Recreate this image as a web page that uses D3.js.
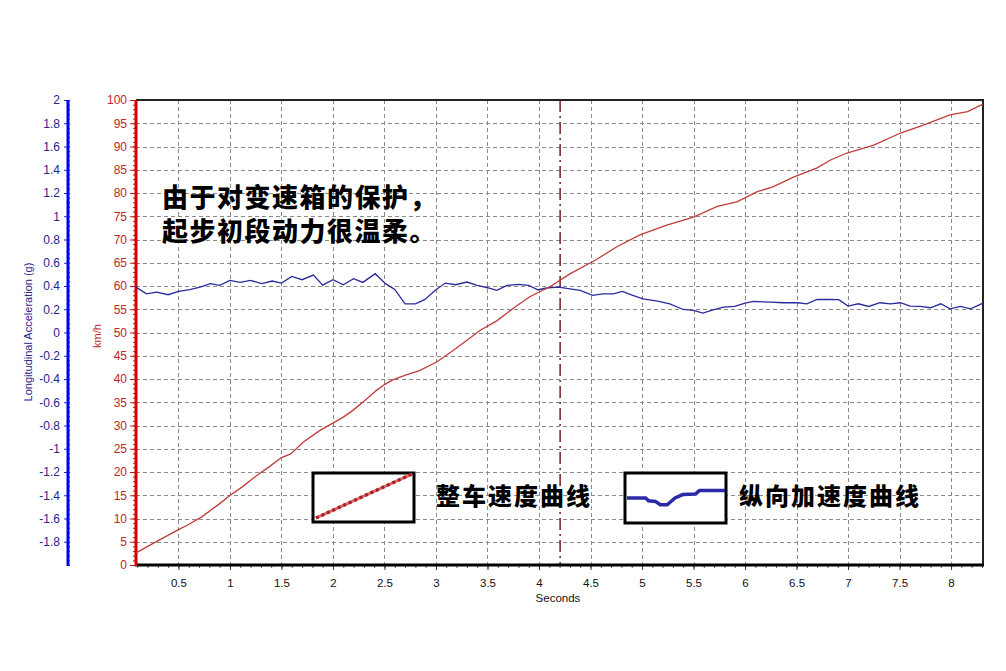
<!DOCTYPE html>
<html><head><meta charset="utf-8">
<script src="https://cdn.jsdelivr.net/npm/d3@7"></script>
<style>
html,body{margin:0;padding:0;background:#fff;}
svg{display:block;}
text{font-family:"Liberation Sans",Arial,sans-serif;}
.cjk{font-family:"Noto Sans CJK SC",sans-serif;font-weight:900;fill:#000;}
</style></head>
<body>
<svg id="c" width="1006" height="671"></svg>
<script>
// ---- data ----
const timeDomain = [0.088, 8.31];
const speedTicks = d3.range(0, 101, 5);
const accelTicks = [2,1.8,1.6,1.4,1.2,1,0.8,0.6,0.4,0.2,0,-0.2,-0.4,-0.6,-0.8,-1,-1.2,-1.4,-1.6,-1.8];
const timeTicks = [0.5,1,1.5,2,2.5,3,3.5,4,4.5,5,5.5,6,6.5,7,7.5,8];
const cursorTime = 4.205;

const speedT = [0.088,0.25,0.5,0.59,0.73,0.9,0.99,1.12,1.25,1.38,1.5,1.59,1.71,1.87,1.99,2.1,2.19,2.29,2.42,2.5,2.58,2.71,2.84,3.01,3.17,3.43,3.59,3.75,3.91,4.11,4.3,4.55,4.76,4.98,5.24,5.5,5.73,5.92,6.12,6.27,6.47,6.7,6.83,6.99,7.25,7.51,7.73,7.99,8.16,8.31];
const speedV = [2.6,4.6,7.6,8.6,10.4,13.2,14.8,16.8,19.1,21.1,23.1,23.9,26.4,28.9,30.4,31.8,33.2,35.0,37.5,38.8,39.8,40.9,41.8,43.7,46.2,50.5,52.5,55.2,57.7,59.9,62.6,65.6,68.5,71.0,73.1,74.8,77.1,78.1,80.3,81.3,83.4,85.4,87.1,88.6,90.3,92.9,94.6,96.8,97.5,99.1];

const accelT = [0.088,0.19,0.29,0.4,0.5,0.61,0.71,0.81,0.9,1.0,1.1,1.2,1.31,1.41,1.5,1.6,1.7,1.81,1.9,2.0,2.1,2.2,2.29,2.41,2.51,2.6,2.7,2.8,2.89,2.99,3.09,3.19,3.3,3.4,3.5,3.59,3.69,3.8,3.9,3.99,4.09,4.19,4.3,4.4,4.52,4.62,4.72,4.81,4.91,5.01,5.15,5.27,5.4,5.5,5.59,5.69,5.79,5.9,6.0,6.08,6.25,6.37,6.51,6.6,6.7,6.8,6.91,7.0,7.1,7.2,7.31,7.41,7.51,7.6,7.7,7.8,7.9,7.99,8.09,8.19,8.31];
const accelV = [0.39,0.333,0.347,0.325,0.353,0.368,0.39,0.42,0.405,0.448,0.431,0.448,0.42,0.443,0.425,0.483,0.454,0.494,0.408,0.454,0.411,0.463,0.431,0.506,0.42,0.371,0.247,0.247,0.282,0.362,0.425,0.411,0.434,0.405,0.385,0.362,0.405,0.414,0.405,0.368,0.385,0.39,0.376,0.362,0.319,0.333,0.333,0.353,0.319,0.29,0.27,0.247,0.198,0.19,0.167,0.195,0.218,0.224,0.253,0.267,0.261,0.256,0.256,0.247,0.284,0.284,0.282,0.227,0.247,0.224,0.256,0.247,0.256,0.227,0.224,0.213,0.247,0.204,0.224,0.204,0.253];

const annotationLines = ["由于对变速箱的保护，", "起步初段动力很温柔。"];
const legendLabels = ["整车速度曲线", "纵向加速度曲线"];
// legend sample shapes (relative 0..1 within swatch)
const legendRedX = [0, 1];
const legendRedY = [0, 1];
const legendBlueX = [0, 0.19, 0.22, 0.29, 0.34, 0.41, 0.49, 0.57, 0.70, 0.74, 1];
const legendBlueY = [0.5, 0.5, 0.42, 0.4, 0.3, 0.3, 0.5, 0.6, 0.62, 0.72, 0.72];

// ---- scales ----
const L = 136, R = 983, T = 100, B = 565;
const x = d3.scaleLinear().domain(timeDomain).range([L, R]);
const ySpeed = d3.scaleLinear().domain([0, 100]).range([B, T]);
const yAcc = d3.scaleLinear().domain([-2, 2]).range([B, T]);

const svg = d3.select("#c");

// grid
const grid = svg.append("g").attr("stroke", "#8a8a8a").attr("stroke-width", 1).attr("stroke-dasharray", "4,3");
speedTicks.filter(v => v > 0 && v < 100).forEach(v => {
  grid.append("line").attr("x1", L).attr("x2", R).attr("y1", Math.round(ySpeed(v)) + 0.5).attr("y2", Math.round(ySpeed(v)) + 0.5);
});
timeTicks.forEach(v => {
  grid.append("line").attr("y1", T).attr("y2", B).attr("x1", Math.round(x(v)) + 0.5).attr("x2", Math.round(x(v)) + 0.5);
});

// frame top/right
svg.append("line").attr("x1", L).attr("x2", R + 1).attr("y1", T).attr("y2", T).attr("stroke", "#222").attr("stroke-width", 2);
svg.append("line").attr("x1", R).attr("x2", R).attr("y1", T).attr("y2", B).attr("stroke", "#222").attr("stroke-width", 2);

// cursor
svg.append("line").attr("x1", x(cursorTime)).attr("x2", x(cursorTime)).attr("y1", T).attr("y2", B)
  .attr("stroke", "#6e1e1e").attr("stroke-width", 1.5).attr("stroke-dasharray", "12,4,2,4");

// x axis
const xAxisG = svg.append("g").attr("transform", `translate(0,${B})`);
xAxisG.call(d3.axisBottom(x).tickValues(d3.range(0.1, 8.31, 0.1)).tickSize(3).tickFormat(""))
  .call(g => g.select(".domain").remove()).call(g => g.selectAll("line").attr("stroke", "#555"));
const xMajor = svg.append("g").attr("transform", `translate(0,${B})`);
xMajor.call(d3.axisBottom(x).tickValues(timeTicks).tickSize(5).tickPadding(9).tickFormat(d => String(d)))
  .call(g => g.select(".domain").remove())
  .call(g => g.selectAll("text").attr("font-size", 11.5).attr("fill", "#111").attr("font-family", "Liberation Sans, Arial, sans-serif"))
  .call(g => g.selectAll("line").attr("stroke", "#333"));
svg.append("line").attr("x1", L - 1).attr("x2", R + 1).attr("y1", B).attr("y2", B).attr("stroke", "#000").attr("stroke-width", 3);
svg.append("text").attr("x", 558).attr("y", 602).attr("text-anchor", "middle").attr("font-size", 11.5).attr("fill", "#111").text("Seconds");

// speed axis (red)
const redAxis = svg.append("g").attr("transform", `translate(${L},0)`);
redAxis.call(d3.axisLeft(ySpeed).tickValues(d3.range(0, 101, 1)).tickSize(3).tickFormat(""))
  .call(g => g.select(".domain").remove()).call(g => g.selectAll("line").attr("stroke", "#cc1111"));
const redMajor = svg.append("g").attr("transform", `translate(${L},0)`);
redMajor.call(d3.axisLeft(ySpeed).tickValues(speedTicks).tickSize(6).tickPadding(3).tickFormat(d => String(d)))
  .call(g => g.select(".domain").remove())
  .call(g => g.selectAll("line").attr("stroke", "#cc1111"))
  .call(g => g.selectAll("text").attr("font-size", 12).attr("fill", "#c0262b").attr("font-family", "Liberation Sans, Arial, sans-serif"));
svg.append("line").attr("x1", L).attr("x2", L).attr("y1", T).attr("y2", B + 1).attr("stroke", "#d40000").attr("stroke-width", 3);
svg.append("text").attr("transform", `translate(101,336) rotate(-90)`).attr("text-anchor", "middle")
  .attr("font-size", 11).attr("fill", "#c0262b").text("km/h");

// accel axis (blue)
const AX = 68;
const blueMinor = svg.append("g").attr("transform", `translate(${AX},0)`);
blueMinor.call(d3.axisRight(yAcc).tickValues(d3.range(-2, 2.001, 0.04)).tickSize(2).tickFormat(""))
  .call(g => g.select(".domain").remove()).call(g => g.selectAll("line").attr("stroke", "#2222dd"));
const blueMajor = svg.append("g").attr("transform", `translate(${AX},0)`);
blueMajor.call(d3.axisLeft(yAcc).tickValues(accelTicks).tickSize(4).tickPadding(4).tickFormat(d => String(+d.toFixed(1))))
  .call(g => g.select(".domain").remove())
  .call(g => g.selectAll("line").attr("stroke", "#2222dd"))
  .call(g => g.selectAll("text").attr("font-size", 12).attr("fill", "#25258f").attr("font-family", "Liberation Sans, Arial, sans-serif"));
svg.append("line").attr("x1", AX).attr("x2", AX).attr("y1", T).attr("y2", B + 1).attr("stroke", "#0000ee").attr("stroke-width", 3);
svg.append("text").attr("transform", `translate(32,332) rotate(-90)`).attr("text-anchor", "middle")
  .attr("font-size", 11).attr("fill", "#25258f").text("Longitudinal Acceleration (g)");

// series
const speedData = speedT.map((t, i) => [t, speedV[i]]);
const accelData = accelT.map((t, i) => [t, accelV[i]]);
svg.append("path").datum(accelData)
  .attr("d", d3.line().x(d => x(d[0])).y(d => yAcc(d[1])))
  .attr("fill", "none").attr("stroke", "#2a2a9c").attr("stroke-width", 1.3);
svg.append("path").datum(speedData)
  .attr("d", d3.line().x(d => x(d[0])).y(d => ySpeed(d[1])))
  .attr("fill", "none").attr("stroke", "#c23b3b").attr("stroke-width", 1.3);

// annotation
annotationLines.forEach((s, i) => {
  svg.append("text").attr("class", "cjk").attr("x", 162).attr("y", 207 + i * 34)
    .attr("font-size", 26).attr("letter-spacing", 1.5).text(s);
});

// legend
const sw1 = {x0: 313, x1: 414, y0: 473, y1: 522};
const sw2 = {x0: 625, x1: 726, y0: 473, y1: 523};
[sw1, sw2].forEach(s => {
  svg.append("rect").attr("x", s.x0).attr("y", s.y0).attr("width", s.x1 - s.x0).attr("height", s.y1 - s.y0)
    .attr("fill", "#fff").attr("stroke", "#000").attr("stroke-width", 3);
});
const lx1 = d3.scaleLinear().domain([0, 1]).range([sw1.x0 + 3, sw1.x1 - 2]);
const ly1 = d3.scaleLinear().domain([0, 1]).range([sw1.y1 - 4, sw1.y0 + 1]);
const redSample = legendRedX.map((v, i) => [v, legendRedY[i]]);
const redLine = d3.line().x(d => lx1(d[0])).y(d => ly1(d[1]));
svg.append("path").datum(redSample).attr("d", redLine)
  .attr("stroke", "#d46a6a").attr("stroke-width", 3).attr("fill", "none");
svg.append("path").datum(redSample).attr("d", redLine)
  .attr("stroke", "#b01c22").attr("stroke-width", 3.5).attr("fill", "none").attr("stroke-dasharray", "3,3");
const lx2 = d3.scaleLinear().domain([0, 1]).range([sw2.x0 + 2, sw2.x1 - 1]);
const ly2 = d3.scaleLinear().domain([0, 1]).range([sw2.y1 - 8, sw2.y0 + 8]);
svg.append("path").datum(legendBlueX.map((v, i) => [v, legendBlueY[i]]))
  .attr("d", d3.line().x(d => lx2(d[0])).y(d => ly2(d[1])))
  .attr("stroke", "#2a2aa8").attr("stroke-width", 3.5).attr("fill", "none");
svg.append("text").attr("class", "cjk").attr("x", 436).attr("y", 505).attr("font-size", 24).attr("letter-spacing", 2).text(legendLabels[0]);
svg.append("text").attr("class", "cjk").attr("x", 739).attr("y", 505).attr("font-size", 24).attr("letter-spacing", 2).text(legendLabels[1]);
</script>
</body></html>
